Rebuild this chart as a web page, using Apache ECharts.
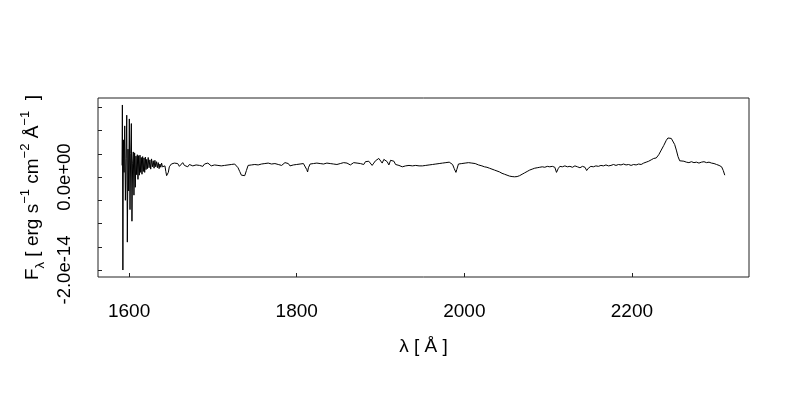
<!DOCTYPE html>
<html>
<head>
<meta charset="utf-8">
<script src="https://cdn.jsdelivr.net/npm/echarts@6/dist/echarts.min.js"></script>
<style>html,body{margin:0;padding:0;background:#fff}#c{width:800px;height:400px}</style>
</head>
<body>
<div id="c"></div>
<script>
// Flux values are in units of 1e-14 erg s^-1 cm^-2 A^-1
const specBlue = [
[1591.6,0.25],[1592.0,1.55],[1592.6,-2.0],[1593.2,0.8],[1594.0,0.1],[1594.8,1.1],[1595.6,-0.5],[1596.4,0.4],
[1597.2,1.33],[1597.9,-1.4],[1598.7,0.6],[1599.5,-0.3],[1600.3,1.25],[1601.1,-0.7],[1601.9,0.5],[1602.7,1.15],
[1603.4,-0.95],[1604.2,0.3],[1605.0,0.54],[1605.8,-0.39],[1606.6,0.52],[1607.4,-0.22],[1608.2,0.45],[1609.0,0.05],
[1609.8,0.48],[1610.6,-0.05],[1611.4,0.46],[1612.2,0.04],[1613.0,0.47],[1613.8,0.10],[1614.6,0.42],[1615.4,0.06],
[1616.2,0.44],[1617.0,0.12],[1617.8,0.41],[1618.6,0.10],[1619.4,0.43],[1620.2,0.16],[1621.0,0.38],[1621.8,0.18],
[1622.8,0.42],[1623.8,0.20],[1624.8,0.37],[1625.8,0.17],[1626.8,0.39],[1627.8,0.22],[1628.8,0.35],[1629.8,0.19],
[1630.8,0.36],[1631.8,0.22],[1632.8,0.33],[1633.8,0.20],[1634.8,0.31],[1635.8,0.18],[1636.8,0.28],[1637.8,0.21],
[1638.8,0.30],[1639.8,0.22],[1640.8,0.26],[1641.8,0.20],[1642.8,0.24],[1643.8,0.12],[1644.8,0.03],[1645.8,0.0],
[1646.8,0.10],[1648.0,0.22],[1649.2,0.19],[1650.4,0.28]
];
const specMid = [
[1652,0.24],[1654,0.30],[1656,0.26],[1658,0.29],[1660,0.23],[1662,0.27],[1664,0.31],[1666,0.25],[1668,0.28],
[1670,0.22],[1672,0.27],[1674,0.29],[1676,0.24],[1678,0.28],[1680,0.26],[1682,0.30],[1684,0.25],[1686,0.27],
[1688,0.23],[1690,0.28],[1692,0.26],[1694,0.30],[1696,0.27],[1698,0.24],[1700,0.28],[1702,0.26],[1704,0.29],
[1706,0.25],[1708,0.27],[1710,0.24],[1712,0.28],[1714,0.25],[1716,0.29],[1718,0.26],[1720,0.23],[1722,0.27],
[1724,0.25],[1726,0.28],[1728,0.24],[1730,0.20],[1732,0.12],[1734,0.04],[1736,0.01],[1738,0.03],[1740,0.14],
[1742,0.25],[1744,0.28],[1746,0.26],[1748,0.30],[1750,0.27],[1752,0.29],[1754,0.26],[1756,0.30],[1758,0.28],
[1760,0.25],[1762,0.29],[1764,0.27],[1766,0.30],[1768,0.26],[1770,0.28],[1772,0.25],[1774,0.29],[1776,0.31],
[1778,0.27],[1780,0.30],[1782,0.25],[1784,0.28],[1786,0.31],[1788,0.27],[1790,0.29],[1792,0.24],[1794,0.28],
[1796,0.26],[1798,0.30],[1800,0.27],[1802,0.31],[1804,0.28],[1806,0.26],[1808,0.29],[1810,0.25],[1812,0.16],
[1813,0.11],[1814,0.20],[1816,0.28],[1818,0.31],[1820,0.29],[1822,0.33],[1824,0.30],[1826,0.32],[1828,0.29],
[1830,0.31],[1832,0.28],[1834,0.32],[1836,0.30],[1838,0.33],[1840,0.29],[1842,0.31],[1844,0.28],[1846,0.30],
[1848,0.27],[1850,0.31],[1852,0.29],[1854,0.28],[1856,0.31],[1858,0.27],[1860,0.30],[1862,0.28],[1864,0.26],
[1866,0.29],[1868,0.31],[1870,0.28],[1872,0.30],[1874,0.33],[1876,0.29],[1878,0.31],[1880,0.27],[1882,0.33],
[1884,0.30],[1886,0.34],[1888,0.31],[1890,0.25],[1892,0.30],[1894,0.35],[1896,0.33],[1898,0.40],[1900,0.36],
[1902,0.30],[1904,0.38],[1906,0.41],[1908,0.33],[1910,0.26],[1912,0.36],[1914,0.40],[1916,0.34],[1918,0.27],
[1920,0.30],[1922,0.25],[1924,0.29],[1926,0.22],[1928,0.19],[1930,0.24],[1932,0.21],[1934,0.25],[1936,0.22],
[1938,0.24],[1940,0.21],[1942,0.25],[1944,0.22],[1946,0.24]
];
const specRed = [
[1948,0.27],[1950,0.24],[1952,0.27],[1954,0.25],[1956,0.28],[1958,0.26],[1960,0.24],[1962,0.27],[1964,0.25],
[1966,0.28],[1968,0.26],[1970,0.29],[1972,0.27],[1974,0.30],[1976,0.28],[1978,0.31],[1980,0.29],[1982,0.32],
[1984,0.29],[1986,0.27],[1988,0.18],[1990,0.10],[1991,0.16],[1993,0.28],[1995,0.31],[1997,0.29],[1999,0.32],
[2001,0.30],[2003,0.28],[2005,0.31],[2007,0.29],[2009,0.30],[2011,0.28],[2013,0.29],[2015,0.27],[2017,0.26],
[2019,0.25],[2021,0.24],[2024,0.22],[2027,0.21],[2030,0.19],[2033,0.17],[2036,0.15],[2039,0.13],[2042,0.11],
[2045,0.08],[2048,0.06],[2051,0.04],[2054,0.02],[2057,0.01],[2060,0.005],[2063,0.01],[2066,0.03],[2069,0.06],
[2072,0.09],[2075,0.12],[2078,0.15],[2081,0.17],[2084,0.19],[2087,0.20],[2090,0.21],[2093,0.22],[2096,0.21],
[2099,0.23],[2102,0.22],[2105,0.23],[2108,0.21],[2110,0.10],[2112,0.18],[2114,0.23],[2117,0.22],[2120,0.24],
[2123,0.22],[2126,0.23],[2129,0.21],[2132,0.24],[2135,0.22],[2138,0.20],[2141,0.23],[2144,0.21],[2146,0.14],
[2148,0.19],[2151,0.23],[2154,0.22],[2157,0.24],[2160,0.23],[2163,0.25],[2166,0.24],[2169,0.26],[2172,0.24],
[2175,0.25],[2178,0.27],[2181,0.25],[2184,0.27],[2187,0.26],[2190,0.28],[2193,0.26],[2196,0.27],[2199,0.25],
[2202,0.27],[2205,0.26],[2208,0.28],[2211,0.27],[2214,0.30],[2217,0.32],[2220,0.34],[2223,0.37],[2226,0.40],
[2229,0.41],[2232,0.48],[2235,0.58],[2238,0.68],[2241,0.79],[2243,0.84],[2245,0.86],[2247,0.83],[2249,0.79],
[2251,0.70],[2253,0.58],[2255,0.44],[2257,0.35],[2259,0.33],[2262,0.34],[2265,0.32],[2268,0.31],[2271,0.33],
[2274,0.31],[2277,0.32],[2280,0.30],[2283,0.32],[2286,0.33],[2289,0.31],[2292,0.32],[2295,0.30],[2298,0.29],
[2301,0.27],[2304,0.25],[2307,0.22],[2309,0.14],[2310.8,0.04]
];
const xTicks = [1600, 1800, 2000, 2200];
const yTicks = [-2, -1.5, -1, -0.5, 0, 0.5, 1, 1.5];
const yLabelTicks = [-2, 0];
const FLUX_UNIT = 1e-14;

const spectrum = specBlue.concat(specMid, specRed);
const FONT = 'Liberation Sans, Arial, sans-serif';

function sciLabel(v) {
  let s = (v * FLUX_UNIT).toExponential(1);
  s = s.replace(/e([+-])(\d)$/, 'e$10$2');
  return s;
}

const chart = echarts.init(document.getElementById('c'), null, {renderer: 'canvas'});
chart.setOption({
  animation: false,
  backgroundColor: '#fff',
  grid: {left: 98, top: 98, width: 651, height: 179, show: true, borderColor: '#222', borderWidth: 1, containLabel: false},
  xAxis: {
    type: 'value', min: 1562.9, max: 2339.7,
    axisLine: {show: false, onZero: false},
    splitLine: {show: false},
    axisTick: {show: true, inside: true, length: 4, customValues: xTicks, lineStyle: {color: '#222'}},
    axisLabel: {customValues: xTicks, margin: 25, fontSize: 19, color: '#000', fontFamily: FONT, formatter: v => String(v)},
    name: 'λ [ Å ]', nameLocation: 'middle', nameGap: 60,
    nameTextStyle: {fontSize: 19, color: '#000', fontFamily: FONT}
  },
  yAxis: {
    type: 'value', min: -2.15, max: 1.70,
    axisLine: {show: false, onZero: false},
    splitLine: {show: false},
    axisTick: {show: true, inside: true, length: 4, customValues: yTicks, lineStyle: {color: '#222'}},
    axisLabel: {customValues: yLabelTicks, rotate: 90, margin: 24, fontSize: 18.5, color: '#000', fontFamily: FONT, formatter: sciLabel},
    name: '{a|F}{sub|λ}{a| [ erg s}{sup|−1}{a| cm}{sup|−2}{a| Å}{sup|−1}{a|  ]}',
    nameLocation: 'middle', nameGap: 50, nameRotate: 90,
    nameTextStyle: {
      color: '#000', fontFamily: FONT,
      rich: {
        a: {fontSize: 19, lineHeight: 28, fontFamily: FONT, color: '#000'},
        sup: {fontSize: 13, lineHeight: 13, verticalAlign: 'top', fontFamily: FONT, color: '#000'},
        sub: {fontSize: 13, lineHeight: 13, verticalAlign: 'bottom', fontFamily: FONT, color: '#000'}
      }
    }
  },
  series: [{
    type: 'line', data: spectrum, showSymbol: false, symbol: 'none', sampling: 'none',
    lineStyle: {color: '#000', width: 1}
  }]
});
</script>
</body>
</html>
